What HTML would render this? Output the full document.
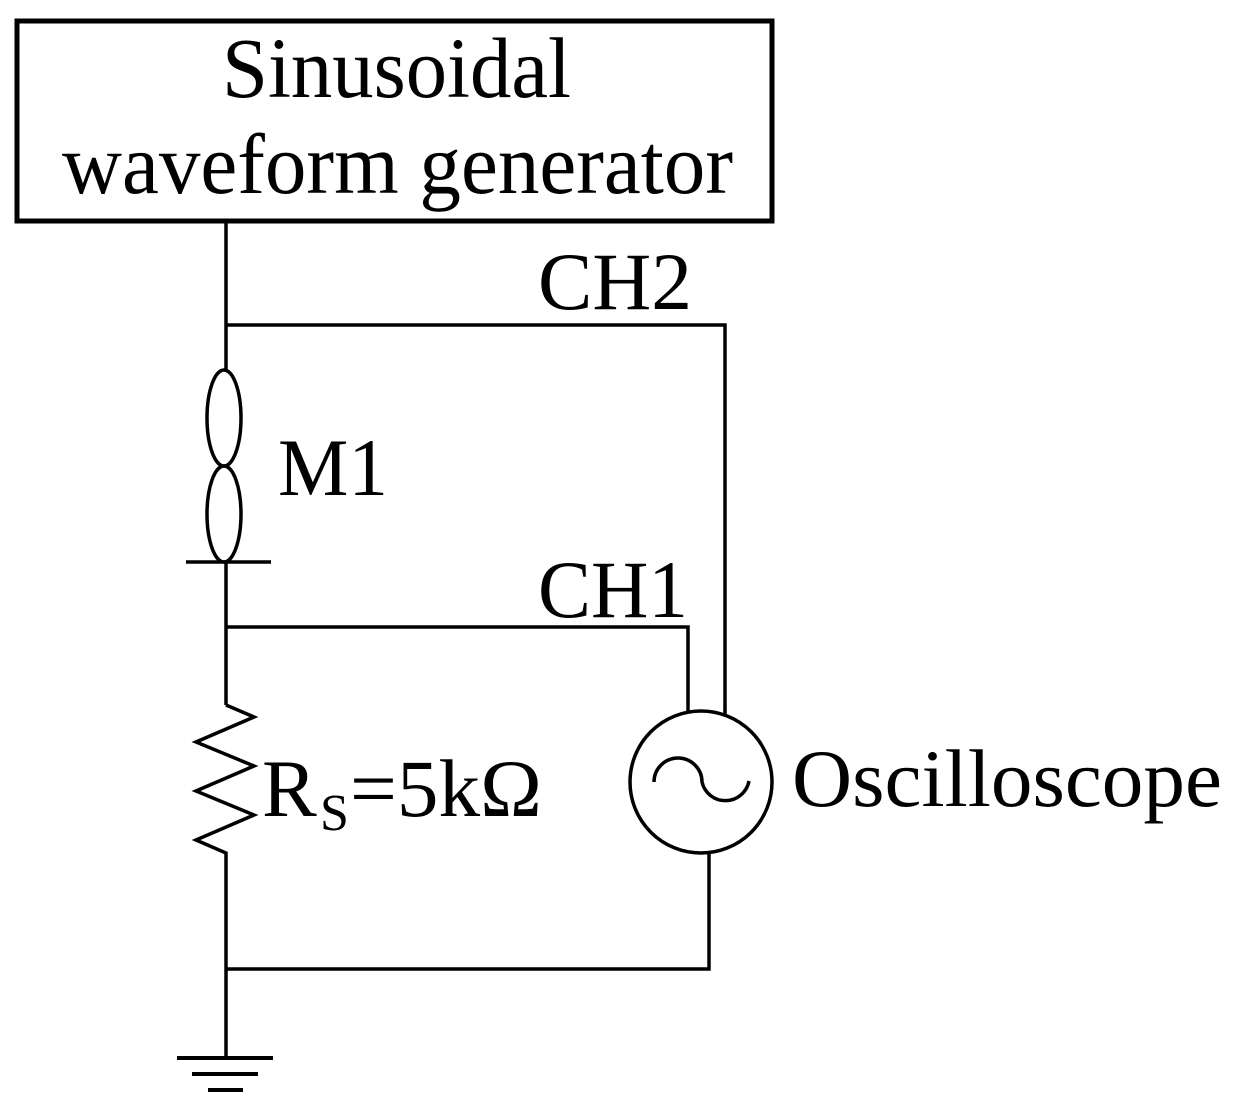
<!DOCTYPE html>
<html><head><meta charset="utf-8"><style>
html,body{margin:0;padding:0;background:#fff;}
svg{display:block;}
text{font-family:"Liberation Serif",serif;fill:#000;}
</style></head><body>
<svg width="1236" height="1101" viewBox="0 0 1236 1101" xmlns="http://www.w3.org/2000/svg">
<g fill="none" stroke="#000" stroke-width="3.5">
<rect x="17" y="21" width="755" height="200" stroke-width="5"/>
<path d="M226 222 V372"/>
<path d="M226 325 H725 V714"/>
<ellipse cx="224" cy="418" rx="17" ry="48"/>
<ellipse cx="224" cy="514" rx="17" ry="48"/>
<path d="M186 562 H271"/>
<path d="M226 562 V705"/>
<path d="M226 627 H688 V712"/>
<path d="M226 705 L254 717 L196 742 L254 766 L196 791 L254 815 L196 840 L226 853 V1058"/>
<path d="M226 969 H709 V854"/>
<circle cx="701" cy="782" r="71"/>
<path d="M654 782 A24 24 0 0 1 702 782 A24 24 0 0 0 749 781"/>
<path d="M177 1058 H273" stroke-width="4"/>
<path d="M192 1074 H258" stroke-width="4"/>
<path d="M208 1090 H243" stroke-width="4"/>
</g>
<text x="222" y="97" font-size="86" textLength="349" lengthAdjust="spacingAndGlyphs">Sinusoidal</text>
<text x="62" y="193" font-size="86" textLength="671" lengthAdjust="spacingAndGlyphs">waveform generator</text>
<text x="538" y="309" font-size="82" textLength="154" lengthAdjust="spacingAndGlyphs">CH2</text>
<text x="538" y="617" font-size="82" textLength="150" lengthAdjust="spacingAndGlyphs">CH1</text>
<text x="278" y="495" font-size="82" textLength="110" lengthAdjust="spacingAndGlyphs">M1</text>
<text x="262" y="816" font-size="82">R</text>
<text x="320" y="830" font-size="52">S</text>
<text x="350" y="816" font-size="82" textLength="192" lengthAdjust="spacingAndGlyphs">=5kΩ</text>
<text x="792" y="806" font-size="82" textLength="430" lengthAdjust="spacingAndGlyphs">Oscilloscope</text>
</svg>
</body></html>
